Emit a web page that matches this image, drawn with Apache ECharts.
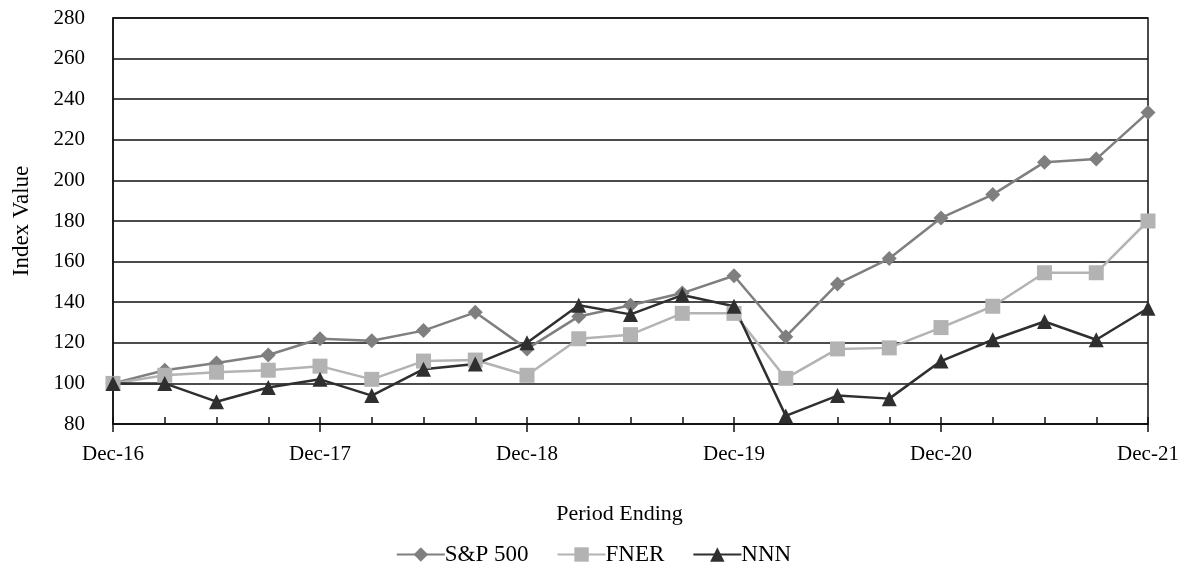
<!DOCTYPE html>
<html>
<head>
<meta charset="utf-8">
<script src="https://cdn.jsdelivr.net/npm/echarts@6/dist/echarts.min.js"></script>
<style>
  html, body { margin: 0; padding: 0; background: #fff; }
  #chart { width: 1187px; height: 565px; }
</style>
</head>
<body>
<div id="chart"></div>
<script>
// Quarterly periods, Dec-16 through Dec-21
const periods = [
  'Dec-16', 'Mar-17', 'Jun-17', 'Sep-17',
  'Dec-17', 'Mar-18', 'Jun-18', 'Sep-18',
  'Dec-18', 'Mar-19', 'Jun-19', 'Sep-19',
  'Dec-19', 'Mar-20', 'Jun-20', 'Sep-20',
  'Dec-20', 'Mar-21', 'Jun-21', 'Sep-21',
  'Dec-21'
];

// Cumulative index values (base 100)
const sp500 = [100, 106.5, 110, 114, 122, 121, 126, 135, 117, 133, 138.5, 144.5,
               153, 123, 149, 161.5, 181.5, 193, 209, 210.5, 233.5];
const fner  = [100, 104, 105.5, 106.5, 108.5, 102, 111, 111.5, 104, 122, 124, 134.5,
               134.5, 102.5, 117, 117.5, 127.5, 138, 154.5, 154.5, 180];
const nnn   = [100, 100, 91, 98, 102, 94, 107, 109.5, 120, 138.5, 134, 143.5,
               138, 84, 94, 92.5, 111, 121.5, 130.5, 121.5, 137];

const seriesNames = ['S&P 500', 'FNER', 'NNN'];
const seriesColors = ['#7f7f7f', '#b3b3b3', '#2f2f2f'];

const font = 'Liberation Serif';
const chart = echarts.init(document.getElementById('chart'));

function lineSeries(name, data, color, symbol, size) {
  return {
    name: name,
    type: 'line',
    data: data,
    symbol: symbol,
    symbolSize: size,
    showAllSymbol: true,
    lineStyle: { color: color, width: 2.5 },
    itemStyle: { color: color },
    emphasis: { disabled: true },
    animation: false
  };
}

chart.setOption({
  backgroundColor: '#ffffff',
  animation: false,
  textStyle: { fontFamily: font, color: '#000' },
  grid: {
    left: 113, right: 39, top: 18, bottom: 141,
    show: true, borderColor: '#111', borderWidth: 1.5
  },
  legend: {
    data: seriesNames,
    top: 538,
    left: 'center',
    itemWidth: 48,
    itemHeight: 18,
    itemGap: 28,
    textStyle: { fontFamily: font, fontSize: 23, color: '#000', padding: [0, 0, 0, -5] }
  },
  xAxis: [
    {
      type: 'category',
      data: periods,
      boundaryGap: false,
      name: 'Period Ending',
      nameLocation: 'middle',
      nameGap: 79,
      nameTextStyle: { fontFamily: font, fontSize: 22, color: '#000', padding: [0, 22, 0, 0] },
      axisLine: { lineStyle: { color: '#111', width: 1.5 } },
      axisTick: { show: true, inside: true, length: 7, interval: 0, lineStyle: { color: '#111', width: 1.5 } },
      axisLabel: {
        interval: 3,
        margin: 20,
        fontFamily: font, fontSize: 21, color: '#000'
      },
      splitLine: { show: false }
    },
    {
      // crossing ticks at each year end
      type: 'category',
      data: periods,
      boundaryGap: false,
      position: 'bottom',
      axisLine: { show: false },
      axisTick: { show: true, inside: false, length: 8, interval: 3, lineStyle: { color: '#111', width: 1.5 } },
      axisLabel: { show: false },
      splitLine: { show: false }
    }
  ],
  yAxis: {
    type: 'value',
    min: 80,
    max: 280,
    interval: 20,
    name: 'Index Value',
    nameLocation: 'middle',
    nameGap: 80,
    nameTextStyle: { fontFamily: font, fontSize: 23, color: '#000' },
    axisLine: { show: true, lineStyle: { color: '#111', width: 1.5 } },
    axisTick: { show: false },
    axisLabel: { margin: 28, fontFamily: font, fontSize: 21, color: '#000' },
    splitLine: { show: true, lineStyle: { color: '#111', width: 1.5 } }
  },
  series: [
    lineSeries(seriesNames[0], sp500, seriesColors[0], 'diamond', 15),
    lineSeries(seriesNames[1], fner, seriesColors[1], 'rect', 15),
    lineSeries(seriesNames[2], nnn, seriesColors[2], 'triangle', 15)
  ]
});
</script>
</body>
</html>
